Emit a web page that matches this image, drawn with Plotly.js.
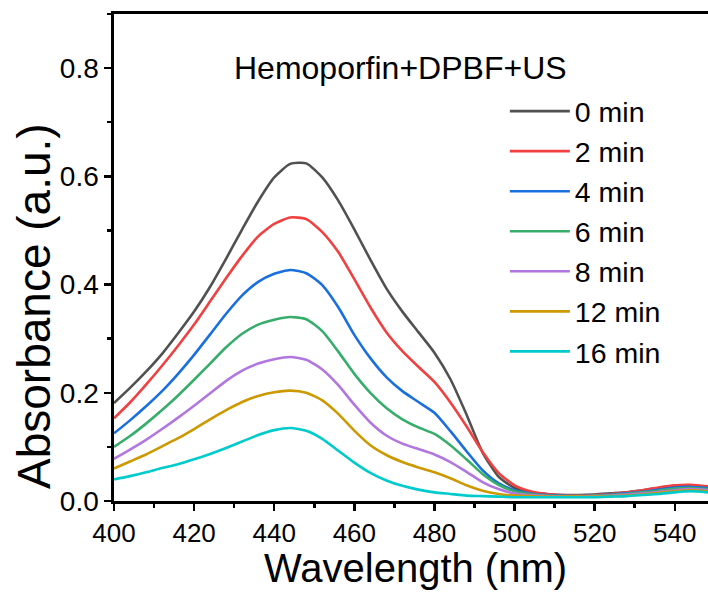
<!DOCTYPE html>
<html>
<head>
<meta charset="utf-8">
<script src="https://cdn.plot.ly/plotly-3.0.1.min.js"></script>
<style>html,body{margin:0;padding:0;background:#fff;}#chart{width:708px;height:592px;}</style>
</head>
<body>
<div id="chart"></div>
<script>
const wavelength = [400,404,408,412,416,420,424,428,432,436,440,444,448,452,456,460,464,468,472,476,480,484,488,492,496,500,504,508,512,516,520,524,528,532,536,540,544,548.3];
const seriesNames = ["0 min","2 min","4 min","6 min","8 min","12 min","16 min"];
const min0  = [0.181,0.209,0.239,0.272,0.310,0.350,0.396,0.448,0.502,0.554,0.598,0.623,0.624,0.598,0.555,0.502,0.446,0.393,0.350,0.312,0.274,0.225,0.160,0.090,0.045,0.024,0.016,0.013,0.011,0.011,0.012,0.014,0.016,0.020,0.024,0.028,0.029,0.026];
const min2  = [0.153,0.182,0.215,0.250,0.287,0.326,0.369,0.412,0.453,0.489,0.512,0.524,0.521,0.497,0.460,0.410,0.358,0.312,0.277,0.248,0.220,0.182,0.138,0.091,0.052,0.029,0.018,0.013,0.011,0.010,0.011,0.013,0.016,0.020,0.025,0.029,0.030,0.027];
const min4  = [0.125,0.149,0.175,0.203,0.235,0.270,0.308,0.346,0.380,0.405,0.420,0.427,0.421,0.399,0.358,0.307,0.264,0.229,0.203,0.183,0.163,0.129,0.092,0.057,0.033,0.020,0.014,0.011,0.010,0.009,0.010,0.012,0.014,0.017,0.021,0.025,0.026,0.024];
const min6  = [0.100,0.120,0.143,0.168,0.195,0.224,0.254,0.284,0.309,0.326,0.335,0.340,0.336,0.314,0.276,0.235,0.200,0.172,0.151,0.136,0.124,0.103,0.077,0.050,0.030,0.018,0.013,0.010,0.009,0.009,0.010,0.011,0.013,0.016,0.019,0.023,0.024,0.022];
const min8  = [0.078,0.095,0.113,0.133,0.154,0.176,0.199,0.222,0.241,0.254,0.262,0.266,0.261,0.243,0.214,0.178,0.145,0.121,0.106,0.096,0.086,0.072,0.054,0.035,0.022,0.014,0.011,0.009,0.008,0.008,0.009,0.010,0.012,0.014,0.017,0.020,0.022,0.020];
const min12 = [0.060,0.073,0.086,0.101,0.116,0.133,0.151,0.168,0.183,0.194,0.201,0.204,0.200,0.186,0.161,0.130,0.103,0.085,0.072,0.062,0.053,0.042,0.029,0.019,0.013,0.010,0.009,0.008,0.008,0.008,0.008,0.009,0.010,0.012,0.015,0.018,0.020,0.018];
const min16 = [0.040,0.046,0.053,0.061,0.068,0.077,0.087,0.098,0.110,0.122,0.131,0.135,0.130,0.115,0.093,0.071,0.052,0.038,0.028,0.021,0.016,0.013,0.010,0.009,0.008,0.007,0.007,0.007,0.007,0.007,0.007,0.008,0.009,0.011,0.013,0.016,0.018,0.016];
const colors = ["#515151","#F14040","#1A6FDF","#37AD6B","#B177DE","#CC9900","#00CBCC"];
const xTicks = [400,420,440,460,480,500,520,540];
const yTicks = [0.0,0.2,0.4,0.6,0.8];
const yTickText = ["0.0","0.2","0.4","0.6","0.8"];
const xTitle = "Wavelength (nm)";
const yTitle = "Absorbance (a.u.)";
const annotationText = "Hemoporfin+DPBF+US";

const allSeries = [min0,min2,min4,min6,min8,min12,min16];
const FONT = "Liberation Sans, Arial, sans-serif";
const traces = allSeries.map((ys,i)=>({
  x: wavelength, y: ys, type:"scatter", mode:"lines", name: seriesNames[i],
  line:{color: colors[i], width:2.6, shape:"spline", smoothing:0.6}
}));

const layout = {
  width:708, height:592,
  margin:{l:114, r:0, t:14, b:91},
  paper_bgcolor:"#fff", plot_bgcolor:"#fff",
  font:{family:FONT, color:"#000"},
  showlegend:true,
  legend:{x:0.658, y:0.852, xanchor:"left", yanchor:"top", bgcolor:"rgba(0,0,0,0)",
    font:{family:FONT, size:28.5, color:"#000"}, itemwidth:60, tracegroupgap:0},
  xaxis:{range:[400,548.3], tickvals:xTicks, ticktext:xTicks.map(String),
    ticks:"outside", ticklen:7, tickwidth:2.5, tickcolor:"#000",
    minor:{dtick:10, ticks:"outside", ticklen:4, tickwidth:2.5, tickcolor:"#000"},
    showline:true, linewidth:2.6, linecolor:"#000", mirror:true,
    showgrid:false, zeroline:false,
    tickfont:{family:FONT, size:26, color:"#000"}},
  yaxis:{range:[0,0.9], tickvals:yTicks, ticktext:yTickText,
    ticks:"outside", ticklen:7, tickwidth:2.5, tickcolor:"#000",
    minor:{dtick:0.1, ticks:"outside", ticklen:4, tickwidth:2.5, tickcolor:"#000"},
    showline:true, linewidth:2.6, linecolor:"#000", mirror:false,
    showgrid:false, zeroline:false,
    tickfont:{family:FONT, size:28, color:"#000"}},
  annotations:[
    {x:429.5, y:0.80, xref:"x", yref:"y", xanchor:"left", yanchor:"middle",
     text:annotationText, showarrow:false, font:{family:FONT, size:32, color:"#000"}},
    {x:-0.135, y:0.40, xref:"paper", yref:"paper", xanchor:"center", yanchor:"middle",
     textangle:-90, text:yTitle, showarrow:false, font:{family:FONT, size:46, color:"#000"}},
    {x:0.507, y:-0.1376, xref:"paper", yref:"paper", xanchor:"center", yanchor:"middle",
     text:xTitle, showarrow:false, font:{family:FONT, size:40, color:"#000"}}
  ]
};
Plotly.newPlot("chart", traces, layout, {staticPlot:true, displayModeBar:false});
</script>
</body>
</html>
